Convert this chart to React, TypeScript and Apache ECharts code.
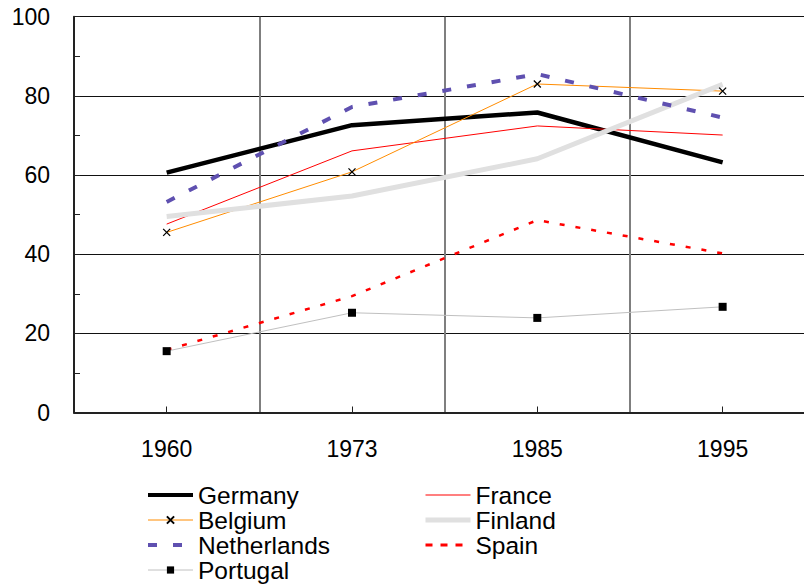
import React, { useEffect, useRef } from 'react';
import * as echarts from 'echarts';

const categories = ['1960', '1973', '1985', '1995'];
const germany = [60.6, 72.6, 75.8, 63.2];
const france = [47.6, 66.1, 72.4, 70.1];
const belgium = [45.5, 60.8, 83.0, 81.2];
const finland = [49.5, 54.7, 64.1, 82.9];
const netherlands = [53.2, 77.2, 85.5, 74.5];
const spain = [15.8, 29.4, 48.6, 40.2];
const portugal = [15.5, 25.2, 23.9, 26.7];

const leftLegend = ['Germany', 'Belgium', 'Netherlands', 'Portugal'];
const rightLegend = ['France', 'Finland', 'Spain'];

const FONT = "'Liberation Sans', Arial, sans-serif";

const hidden = { color: 'transparent', borderColor: 'transparent', borderWidth: 0, opacity: 0 };

const legendStyles: Record<string, any> = {
  Germany: { itemStyle: hidden, lineStyle: { width: 4, color: '#000' } },
  France: { itemStyle: hidden, lineStyle: { width: 1.2, color: '#ff0000' } },
  Belgium: { lineStyle: { width: 1, color: '#ff8c00' } },
  Finland: { itemStyle: hidden, lineStyle: { width: 5, color: '#e0e0e0' } },
  Netherlands: { itemStyle: hidden, lineStyle: { width: 4, color: '#5f50b0', type: [9, 16], dashOffset: 0 } },
  Spain: { itemStyle: hidden, lineStyle: { width: 3, color: '#ff0000', type: [7, 8] } },
  Portugal: { lineStyle: { width: 1, color: '#c0c0c0' } },
};

function legendData(names: string[]) {
  return names.map((n) => ({ name: n, ...legendStyles[n] }));
}

export default function App() {
  const ref = useRef<HTMLDivElement>(null);
  useEffect(() => {
    const chart = echarts.init(ref.current!, null, { renderer: 'svg' });
    const legendBase = {
      orient: 'vertical',
      top: 482.5,
      itemWidth: 45,
      itemHeight: 9,
      itemGap: 0,
      padding: 0,
      textStyle: { fontSize: 24.5, lineHeight: 25, fontFamily: FONT, color: '#000' },
    };
    chart.setOption({
      animation: false,
      backgroundColor: '#fff',
      textStyle: { fontFamily: FONT },
      grid: { left: 74, top: 16.7, width: 741.3, height: 395.8, containLabel: false },
      legend: [
        { ...legendBase, left: 146, data: legendData(leftLegend) },
        { ...legendBase, left: 423, data: legendData(rightLegend) },
      ],
      xAxis: {
        type: 'category',
        data: categories,
        boundaryGap: true,
        axisLine: { lineStyle: { color: '#222', width: 2 } },
        axisTick: { show: true, inside: true, alignWithLabel: true, length: 6, lineStyle: { color: '#222', width: 1 } },
        axisLabel: { fontSize: 23, color: '#000', margin: 25, fontFamily: FONT },
        splitLine: { show: true, interval: 0, lineStyle: { color: '#7f7f7f', width: 2 } },
      },
      yAxis: {
        type: 'value',
        min: 0,
        max: 100,
        interval: 20,
        axisLine: { show: true, lineStyle: { color: '#222', width: 2 } },
        axisTick: { show: true, inside: true, length: 6, lineStyle: { color: '#222', width: 1 } },
        minorTick: { show: true, splitNumber: 2, length: 6, lineStyle: { color: '#222', width: 1 } },
        axisLabel: { fontSize: 23, color: '#000', margin: 24, fontFamily: FONT },
        splitLine: { show: true, lineStyle: { color: '#111', width: 1.2 } },
      },
      series: [
        {
          name: 'Germany', type: 'line', data: germany, symbol: 'none',
          lineStyle: { color: '#000', width: 4.5 }, itemStyle: { color: '#000' },
        },
        {
          name: 'France', type: 'line', data: france, symbol: 'none',
          lineStyle: { color: '#ff0000', width: 1 }, itemStyle: { color: '#ff0000' },
        },
        {
          name: 'Belgium', type: 'line', data: belgium,
          symbol: 'path://M0,0L10,10M10,0L0,10', symbolSize: 7,
          lineStyle: { color: '#ff8c00', width: 1 },
          itemStyle: { color: '#000', borderColor: '#000', borderWidth: 1.3 },
        },
        {
          name: 'Finland', type: 'line', data: finland, symbol: 'none',
          lineStyle: { color: '#e0e0e0', width: 5 }, itemStyle: { color: '#e0e0e0' },
        },
        {
          name: 'Netherlands', type: 'line', data: netherlands, symbol: 'none',
          lineStyle: { color: '#5f50b0', width: 4, type: [9, 16] }, itemStyle: { color: '#5f50b0' },
        },
        {
          name: 'Spain', type: 'line', data: spain, symbol: 'none',
          lineStyle: { color: '#ff0000', width: 2.5, type: [5, 11] }, itemStyle: { color: '#ff0000' },
        },
        {
          name: 'Portugal', type: 'line', data: portugal,
          symbol: 'rect', symbolSize: 8,
          lineStyle: { color: '#c0c0c0', width: 1 },
          itemStyle: { color: '#000' },
        },
      ],
    });
    return () => chart.dispose();
  }, []);
  return (
    <div style={{ position: 'fixed', left: 0, top: 0, width: 804, height: 587, overflow: 'hidden', background: '#fff' }}>
      <div ref={ref} style={{ width: 830, height: 587 }} />
    </div>
  );
}
